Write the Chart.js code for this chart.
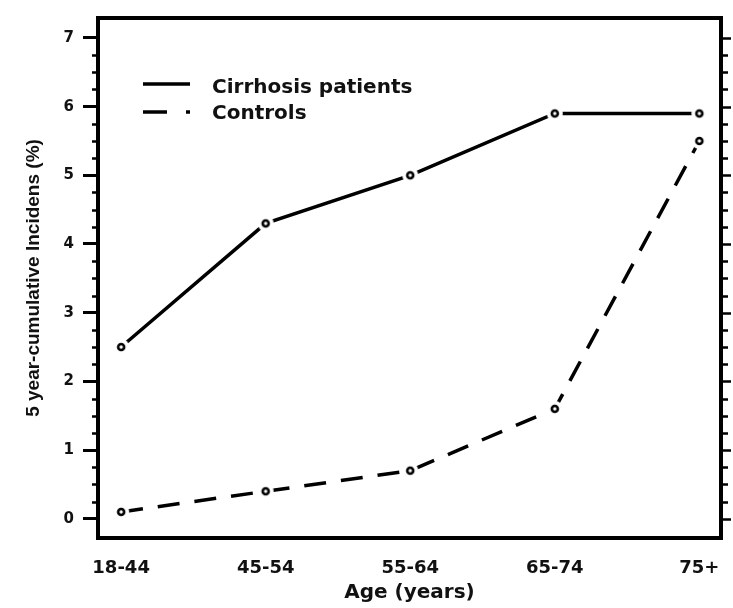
<!DOCTYPE html>
<html>
<head>
<meta charset="utf-8">
<script src="https://cdn.jsdelivr.net/npm/chart.js@4.4.1/dist/chart.umd.min.js"></script>
<style>
html, body { margin: 0; padding: 0; background: #fff; }
#wrap { width: 733px; height: 608px; }
</style>
</head>
<body>
<div id="wrap"><canvas id="incChart" width="733" height="608"></canvas></div>
<script>
// donnees
var ageGroups = ['18-44', '45-54', '55-64', '65-74', '75+'];
var cirrhosis = [2.5, 4.3, 5.0, 5.9, 5.9];
var controls = [0.1, 0.4, 0.7, 1.6, 5.5];
var yTicks = [0, 1, 2, 3, 4, 5, 6, 7];
var seriesNames = ['Cirrhosis patients', 'Controls'];

var ink = '#111';

// marqueur : petit rond noir avec un halo blanc (la ligne s'arrete avant le point)
function makeMarker() {
    var c = document.createElement('canvas');
    c.width = 20; c.height = 20;
    var g = c.getContext('2d');
    g.fillStyle = '#fff';
    g.beginPath(); g.arc(10, 10, 8, 0, Math.PI * 2); g.fill();
    g.strokeStyle = '#000';
    g.lineWidth = 2.6;
    g.beginPath(); g.arc(10, 10, 3, 0, Math.PI * 2); g.fill(); g.stroke();
    return c;
}
var marker = makeMarker();

function toPoints(values) {
    return values.map(function (v, i) { return { x: i, y: v }; });
}

// cadre, petites graduations et legende
var framePlugin = {
    id: 'frame',
    afterDraw: function (chart) {
        var ctx = chart.ctx;
        var a = chart.chartArea;
        var y = chart.scales.y;
        ctx.save();
        ctx.strokeStyle = '#000';
        ctx.lineWidth = 4;
        ctx.strokeRect(a.left, a.top, a.right - a.left, a.bottom - a.top);

        ctx.lineWidth = 2.5;
        for (var v = 0; v <= 7; v += 0.25) {
            var py = Math.round(y.getPixelForValue(v)) + 0.5;
            var major = Math.abs(v - Math.round(v)) < 1e-6;
            ctx.beginPath();
            if (!major) {
                ctx.moveTo(a.left - 6, py); ctx.lineTo(a.left, py);
            }
            ctx.moveTo(a.right, py); ctx.lineTo(a.right + (major ? 10 : 7), py);
            ctx.stroke();
        }

        // legende
        ctx.lineWidth = 3.5;
        ctx.beginPath(); ctx.moveTo(143, 84); ctx.lineTo(190, 84); ctx.stroke();
        ctx.beginPath(); ctx.moveTo(143, 112); ctx.lineTo(167, 112); ctx.stroke();
        ctx.beginPath(); ctx.moveTo(186, 112); ctx.lineTo(190, 112); ctx.stroke();
        ctx.fillStyle = ink;
        ctx.font = 'bold 20px "DejaVu Sans"';
        ctx.textBaseline = 'alphabetic';
        ctx.textAlign = 'left';
        ctx.fillText(seriesNames[0], 212, 93);
        ctx.fillText(seriesNames[1], 212, 119);
        ctx.restore();
    }
};

var chart = new Chart(document.getElementById('incChart').getContext('2d'), {
    type: 'line',
    data: {
        datasets: [{
            label: seriesNames[0],
            data: toPoints(cirrhosis),
            borderColor: '#000',
            borderWidth: 3.5,
            pointStyle: marker,
            pointRadius: 10,
            tension: 0
        }, {
            label: seriesNames[1],
            data: toPoints(controls),
            borderColor: '#000',
            borderWidth: 3.5,
            borderDash: [22, 15],
            pointStyle: marker,
            pointRadius: 10,
            tension: 0
        }]
    },
    options: {
        responsive: false,
        devicePixelRatio: 1,
        animation: false,
        layout: { autoPadding: false, padding: { top: 9, right: 12, left: 0, bottom: 0 } },
        plugins: {
            legend: { display: false },
            tooltip: { enabled: false }
        },
        scales: {
            x: {
                type: 'linear',
                min: -0.16,
                max: 4.15,
                afterFit: function (s) { s.height = 70; },
                grid: { display: false },
                border: { display: false },
                ticks: {
                    stepSize: 1,
                    includeBounds: false,
                    autoSkip: false,
                    maxRotation: 0,
                    padding: 12,
                    color: ink,
                    font: { family: '"DejaVu Sans"', size: 18, weight: 'bold' },
                    callback: function (v) { return ageGroups[v] !== undefined ? ageGroups[v] : ''; }
                },
                title: {
                    display: true,
                    text: 'Age (years)',
                    color: ink,
                    font: { family: '"DejaVu Sans"', size: 20, weight: 'bold' },
                    padding: { top: 0, bottom: 3 }
                }
            },
            y: {
                min: -0.28,
                max: 7.29,
                afterFit: function (s) { s.width = 98; },
                grid: {
                    display: true,
                    drawOnChartArea: false,
                    drawTicks: true,
                    tickLength: 15,
                    tickWidth: 3,
                    tickColor: '#000'
                },
                border: { display: false },
                ticks: {
                    stepSize: 1,
                    includeBounds: false,
                    padding: 9,
                    color: ink,
                    font: { family: '"DejaVu Sans"', size: 15, weight: 'bold' },
                    callback: function (v) { return yTicks.indexOf(v) >= 0 ? String(v) : ''; }
                },
                title: {
                    display: true,
                    text: '5 year-cumulative Incidens (%)',
                    color: ink,
                    font: { family: '"Liberation Sans"', size: 19, weight: 'bold' },
                    padding: { top: 22, bottom: 0 }
                }
            }
        }
    },
    plugins: [framePlugin]
});
</script>
</body>
</html>
